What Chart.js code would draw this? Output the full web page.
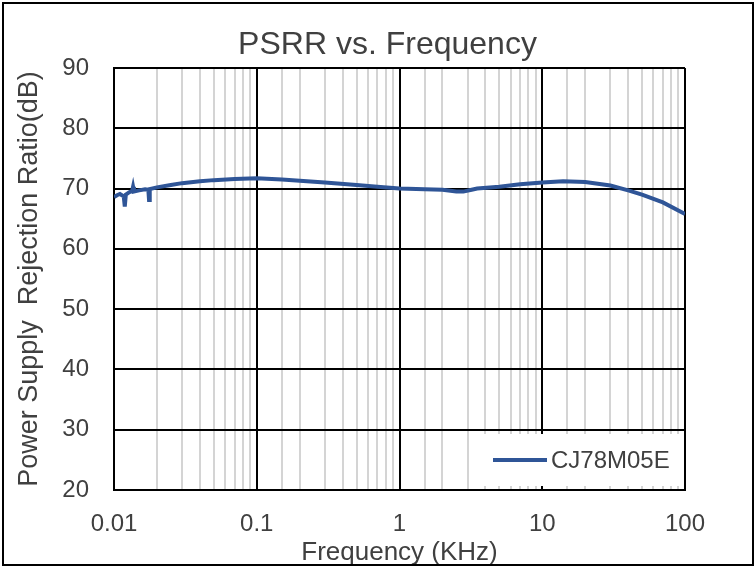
<!DOCTYPE html>
<html>
<head>
<meta charset="utf-8">
<script src="https://cdn.jsdelivr.net/npm/chart.js@4.4.1/dist/chart.umd.min.js"></script>
<style>
  html, body { margin: 0; padding: 0; background: #fff; }
  #wrap { width: 756px; height: 568px; position: relative; }
</style>
</head>
<body>
<div id="wrap"><canvas id="psrrChart" width="756" height="568"></canvas></div>
<script>
// frequency in KHz
const freqs = [0.0100, 0.0105, 0.0110, 0.0117, 0.0119, 0.0121, 0.0128, 0.0134, 0.0136, 0.0138,
    0.0150, 0.0165, 0.0174, 0.0176, 0.0178, 0.020, 0.025, 0.030, 0.040, 0.050,
    0.070, 0.100, 0.150, 0.200, 0.300, 0.500, 0.700, 1.00, 1.50, 2.00,
    2.50, 2.80, 3.20, 3.50, 5.00, 7.00, 10.0, 14.0, 20.0, 30.0,
    40.0, 50.0, 70.0, 100];
// PSRR in dB
const psrr = [68.6, 68.9, 69.1, 68.7, 67.0, 69.0, 69.4, 69.6, 70.3, 69.5,
    69.7, 69.9, 69.8, 68.1, 69.9, 70.2, 70.6, 70.9, 71.2, 71.4,
    71.6, 71.7, 71.5, 71.3, 71.0, 70.6, 70.3, 70.0, 69.9, 69.8,
    69.5, 69.5, 69.8, 70.0, 70.3, 70.7, 71.0, 71.2, 71.1, 70.5,
    69.7, 69.0, 67.7, 65.8];
const seriesName = 'CJ78M05E';
const xTickLabels = ['0.01', '0.1', '1', '10', '100'];
const yMin = 20, yMax = 90, yStep = 10;

const textColor = '#404040';
const fontFamily = '"Liberation Sans", Arial, sans-serif';

function isDecade(v) {
    const l = Math.log10(v);
    return Math.abs(l - Math.round(l)) < 1e-6;
}

const frameAndLegend = {
    id: 'frameAndLegend',
    afterLayout(chart) {
        // centre the title a bit to the right, like the original
        if (chart.titleBlock) {
            chart.titleBlock.left = 90;
            chart.titleBlock.right = chart.chartArea.right;
        }
    },
    afterDatasetsDraw(chart) {
        const ctx = chart.ctx;
        const area = chart.chartArea;
        // legend box inside plot, bottom right
        const bx = 474, bw = area.right - 474 - 1;
        const by = 434, bh = area.bottom - 4 - 434;
        ctx.save();
        ctx.fillStyle = '#ffffff';
        ctx.fillRect(bx, by, bw, bh);
        const ly = by + bh / 2;
        ctx.strokeStyle = chart.data.datasets[0].borderColor;
        ctx.lineWidth = 4;
        ctx.beginPath();
        ctx.moveTo(493, ly);
        ctx.lineTo(547, ly);
        ctx.stroke();
        ctx.fillStyle = textColor;
        ctx.font = '24px ' + fontFamily;
        ctx.textBaseline = 'middle';
        ctx.textAlign = 'left';
        ctx.fillText(chart.data.datasets[0].label, 551, ly + 1);
        ctx.restore();
    },
    afterDraw(chart) {
        const ctx = chart.ctx;
        ctx.save();
        ctx.strokeStyle = '#000';
        ctx.lineWidth = 2;
        ctx.strokeRect(3, 3, chart.width - 6, chart.height - 6);
        ctx.restore();
    }
};

const ctx = document.getElementById('psrrChart').getContext('2d');
new Chart(ctx, {
    type: 'line',
    data: {
        datasets: [{
            label: seriesName,
            data: freqs.map((f, i) => ({ x: f, y: psrr[i] })),
            borderColor: '#2f5597',
            borderWidth: 4,
            pointRadius: 0,
            tension: 0,
            fill: false
        }]
    },
    options: {
        responsive: false,
        animation: false,
        layout: { padding: { top: 20, left: 10, right: 71, bottom: 0 } },
        plugins: {
            legend: { display: false },
            tooltip: { enabled: false },
            title: {
                display: true,
                text: 'PSRR vs. Frequency',
                color: textColor,
                font: { family: fontFamily, size: 32, weight: 'normal' },
                padding: { top: 6, bottom: 3.6 }
            }
        },
        scales: {
            x: {
                type: 'logarithmic',
                min: 0.01,
                max: 100,
                afterFit(scale) { scale.height = 78; },
                grid: {
                    drawTicks: false,
                    color: (c) => (c.tick && isDecade(c.tick.value)) ? '#000000' : '#d4d4d4',
                    lineWidth: 2
                },
                border: { color: '#000', width: 2 },
                ticks: {
                    autoSkip: false,
                    maxRotation: 0,
                    padding: 20,
                    color: textColor,
                    font: { family: fontFamily, size: 24 },
                    callback: (v) => {
                        if (!isDecade(v)) return '';
                        const idx = Math.round(Math.log10(v)) + 2;
                        return xTickLabels[idx];
                    }
                },
                title: {
                    display: true,
                    text: 'Frequency (KHz)',
                    color: textColor,
                    font: { family: fontFamily, size: 26 },
                    padding: { top: 0, bottom: 0 }
                }
            },
            y: {
                min: yMin,
                max: yMax,
                afterFit(scale) { scale.width = 104; },
                grid: { drawTicks: false, color: '#000000', lineWidth: 2 },
                border: { color: '#000', width: 2 },
                ticks: {
                    stepSize: yStep,
                    padding: 25,
                    color: textColor,
                    font: { family: fontFamily, size: 24 }
                },
                title: {
                    display: true,
                    text: 'Power Supply  Rejection Ratio(dB)',
                    color: textColor,
                    font: { family: fontFamily, size: 27 },
                    padding: { top: 3, bottom: 0 }
                }
            }
        }
    },
    plugins: [frameAndLegend]
});
</script>
</body>
</html>
